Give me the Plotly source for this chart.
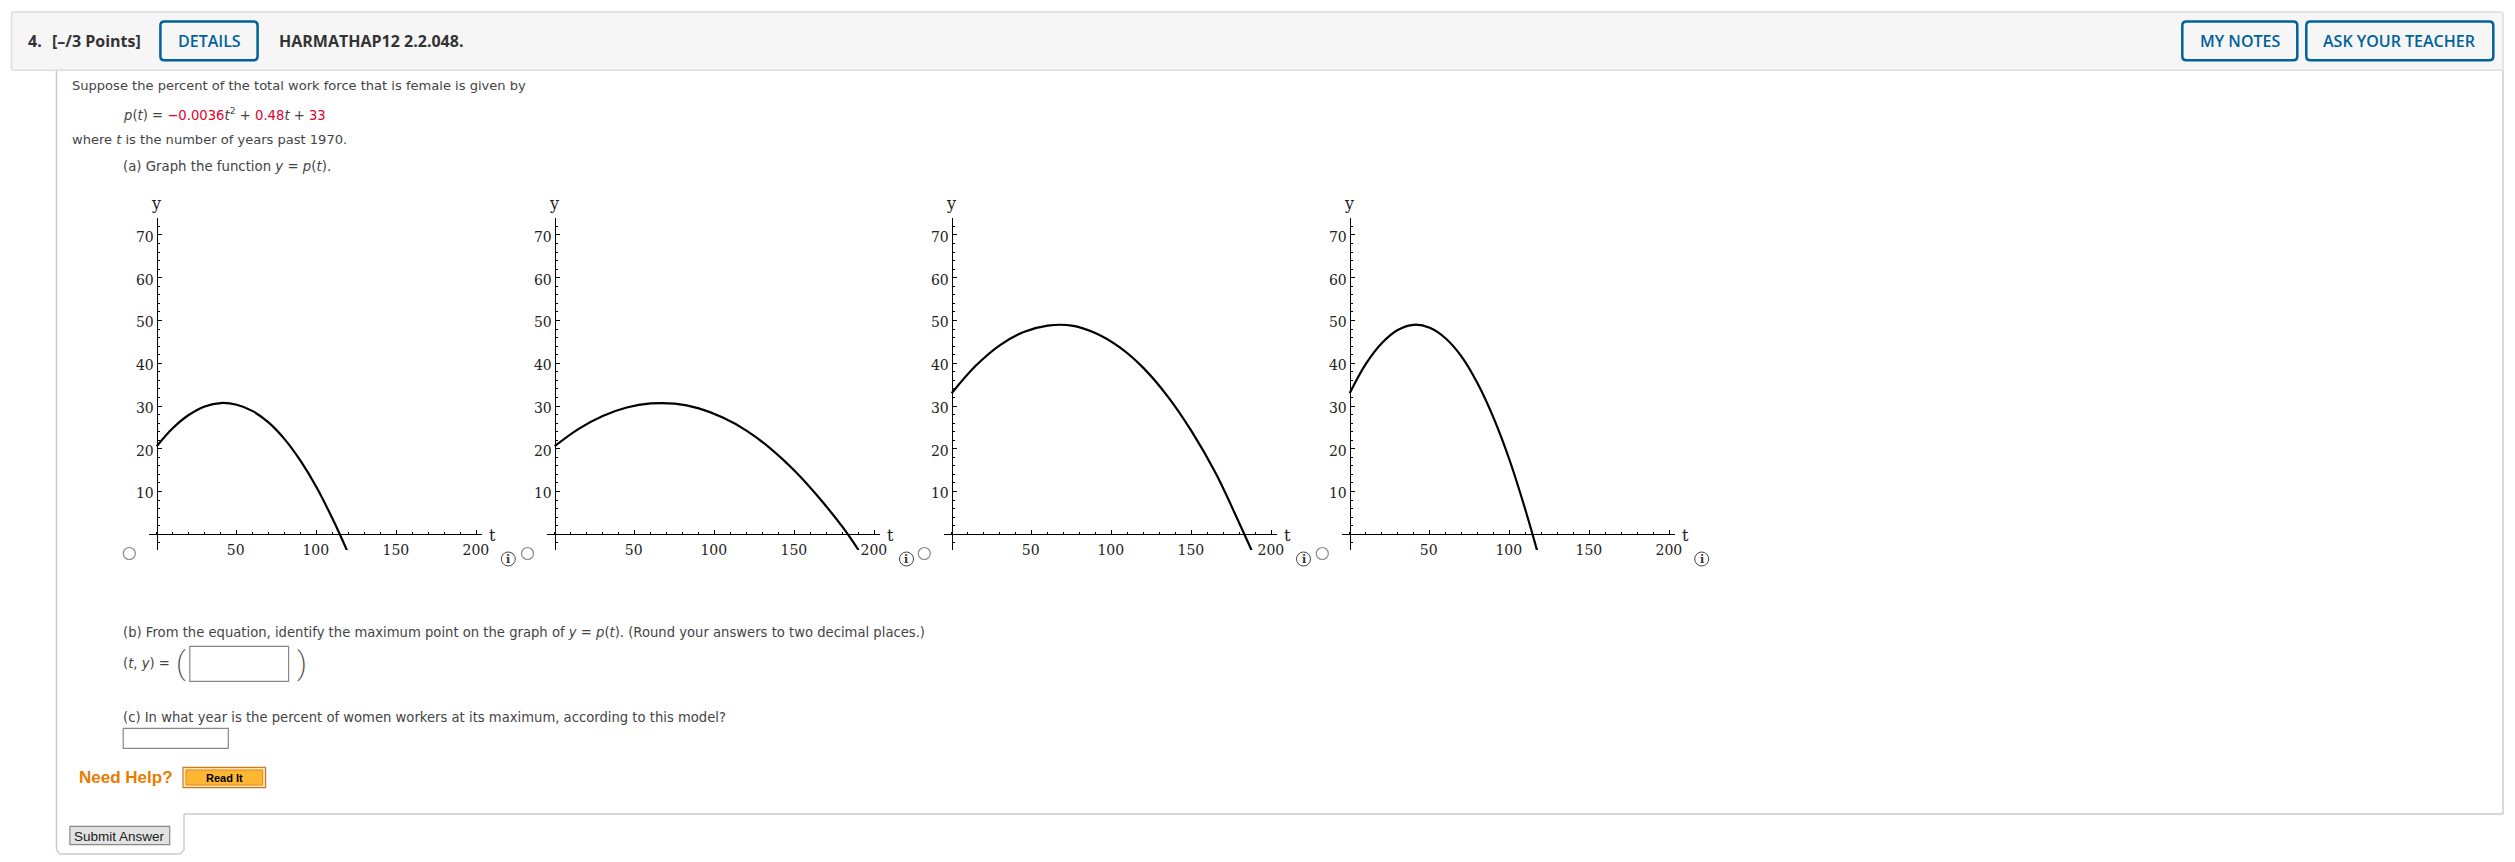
import plotly.graph_objects as go

WIDTH = 2515
HEIGHT = 862

COLOR_BLUE = "#00629b"
COLOR_TEXT = "#444444"
COLOR_RED = "#e4002b"
COLOR_FRAME = "#cccccc"
SERIF = "DejaVu Serif"
SANS = "DejaVu Sans"
HEAD = "Open Sans"

# values
t_a = [0, 10, 20, 30, 40, 50, 60, 70, 80, 90, 100, 110, 118.8]
y_a = [20.6, 24.8, 27.9, 29.9, 30.7, 30.3, 28.8, 26.1, 22.2, 17.1, 10.9, 3.5, -3.7]
t_b = [0, 15, 30, 45, 60, 75, 90, 105, 120, 135, 150, 165, 180, 189.8]
y_b = [20.6, 24.65, 27.66, 29.65, 30.6, 30.54, 29.44, 27.3, 24.2, 20.0, 14.8, 8.6, 1.6, -3.7]
t_c = [0, 15, 30, 45, 60, 75, 90, 105, 120, 135, 150, 165, 180, 187.3]
y_c = [33, 39.4, 44.2, 47.3, 48.8, 48.8, 47.0, 43.7, 38.8, 32.2, 24.0, 14.2, 2.3, -3.7]
t_d = [0, 10, 20, 30, 40, 50, 60, 70, 80, 90, 100, 110, 117]
y_d = [33, 39.8, 44.7, 47.8, 49, 48.3, 45.8, 41.5, 35.2, 27.1, 17.2, 5.4, -3.7]

x_ticks = [50, 100, 150, 200]
y_ticks = [10, 20, 30, 40, 50, 60, 70]

curves = [(t_a, y_a), (t_b, y_b), (t_c, y_c), (t_d, y_d)]
axis_x_px = [156.7, 554.7, 951.7, 1349.7]
radio_x_px = [129.3, 527.5, 924.3, 1322.3]
info_x_px = [508.3, 906.5, 1303.5, 1701.7]

fig = go.Figure()
shapes = []
annotations = []


def px_x(x):
    return x / WIDTH


def px_y(y):
    return 1 - y / HEIGHT


def add_text(x, y, text, size=13, color=COLOR_TEXT, family=SANS, anchor="left", weight=None):
    font = dict(size=size, color=color, family=family)
    if weight:
        font["weight"] = weight
    annotations.append(
        dict(
            x=px_x(x), y=px_y(y), xref="paper", yref="paper", text=text, showarrow=False,
            xanchor=anchor, yanchor="middle", font=font, borderpad=0, borderwidth=0,
        )
    )


def add_box(x0, y0, x1, y1, line, fill="rgba(0,0,0,0)", width=1, radius=0):
    # rounded rectangle as an svg path in paper coordinates
    r = radius
    p = (
        f"M {px_x(x0 + r)} {px_y(y0)} L {px_x(x1 - r)} {px_y(y0)} "
        f"Q {px_x(x1)} {px_y(y0)} {px_x(x1)} {px_y(y0 + r)} L {px_x(x1)} {px_y(y1 - r)} "
        f"Q {px_x(x1)} {px_y(y1)} {px_x(x1 - r)} {px_y(y1)} L {px_x(x0 + r)} {px_y(y1)} "
        f"Q {px_x(x0)} {px_y(y1)} {px_x(x0)} {px_y(y1 - r)} L {px_x(x0)} {px_y(y0 + r)} "
        f"Q {px_x(x0)} {px_y(y0)} {px_x(x0 + r)} {px_y(y0)} Z"
    )
    shapes.append(
        dict(type="path", path=p, xref="paper", yref="paper", fillcolor=fill,
             line=dict(color=line, width=width), layer="below")
    )


def add_line(x0, y0, x1, y1, color=COLOR_FRAME, width=1.5):
    shapes.append(
        dict(type="line", xref="paper", yref="paper", x0=px_x(x0), y0=px_y(y0), x1=px_x(x1), y1=px_y(y1),
             line=dict(color=color, width=width), layer="below")
    )


def add_circle(x, y, r, color="#888888", width=1.2):
    shapes.append(
        dict(type="circle", xref="paper", yref="paper", x0=px_x(x - r), y0=px_y(y + r), x1=px_x(x + r),
             y1=px_y(y - r), line=dict(color=color, width=width), layer="below")
    )


# Plot the four graphs, each with its axes crossing at the origin
for i, (t, y) in enumerate(curves):
    n = "" if i == 0 else str(i + 1)
    fig.add_trace(
        go.Scatter(
            x=t, y=y, mode="lines", xaxis="x" + n, yaxis="y" + n, showlegend=False,
            line=dict(color="black", width=2.2, shape="spline", smoothing=1),
        )
    )
    ax = axis_x_px[i]
    tick_font = dict(family=SERIF, size=14, color="#222222")
    fig.update_layout(
        **{
            "xaxis" + n: dict(
                domain=[px_x(ax - 7.7), px_x(ax + 325)], range=[-4.8, 203], anchor="free",
                position=px_y(534.3), showgrid=False, zeroline=False, showline=True,
                linecolor="black", linewidth=1.3, tickmode="array", tickvals=x_ticks,
                ticks="inside", ticklen=4, tickwidth=1.2, tickcolor="black", tickfont=tick_font,
                ticklabelstandoff=3, ticklabelshift=-1,
                minor=dict(dtick=10, tick0=0, ticks="inside", ticklen=2, tickwidth=1.2, tickcolor="black"),
            ),
            "yaxis" + n: dict(
                domain=[px_y(550), px_y(218.3)], range=[-3.67, 73.9], anchor="free",
                position=px_x(ax), showgrid=False, zeroline=False, showline=True,
                linecolor="black", linewidth=1.3, tickmode="array", tickvals=y_ticks,
                ticks="inside", ticklen=4, tickwidth=1.2, tickcolor="black", tickfont=tick_font,
                ticklabelshift=2,
                minor=dict(dtick=2, tick0=0, ticks="inside", ticklen=2, tickwidth=1.2, tickcolor="black"),
            ),
        }
    )
    add_text(ax - 1, 203.3, "y", size=16, color="#222222", family=SERIF, anchor="center")
    add_text(ax + 336, 535.3, "t", size=16, color="#222222", family=SERIF, anchor="center")
    add_circle(radio_x_px[i], 553.5, 6)
    add_circle(info_x_px[i], 559, 7, color="#444444", width=1)
    add_text(info_x_px[i], 559.5, "<b>i</b>", size=11, color="#333333", family=SERIF, anchor="center")

# Question header
add_box(11.5, 12, 2503, 70.3, "#dddddd", fill="#f6f6f6", width=1.5, radius=2)
add_box(160.4, 21.5, 257.6, 60.3, COLOR_BLUE, width=2.5, radius=4)
add_box(2182.3, 21.5, 2297.3, 60.3, COLOR_BLUE, width=2.5, radius=4)
add_box(2306.3, 21.5, 2493.3, 60.3, COLOR_BLUE, width=2.5, radius=4)
add_text(27.6, 41, "4.", size=16, color="#333333", family=HEAD, weight=700)
add_text(51.7, 41, "[–/3 Points]", size=16, color="#333333", family=HEAD, weight=700)
add_text(209, 41, "DETAILS", size=16, color=COLOR_BLUE, family=HEAD, anchor="center", weight=600)
add_text(279, 41, "HARMATHAP12 2.2.048.", size=16, color="#333333", family=HEAD, weight=700)
add_text(2239.8, 41, "MY NOTES", size=16, color=COLOR_BLUE, family=HEAD, anchor="center", weight=600)
add_text(2399.8, 41, "ASK YOUR TEACHER", size=16, color=COLOR_BLUE, family=HEAD, anchor="center", weight=600)

# Frame around the question
add_line(56.5, 70.3, 56.5, 850)
add_line(60, 854, 180, 854)
add_line(184, 850, 184, 814)
add_line(184, 814, 2503, 814)
add_line(2503, 70.3, 2503, 814)
add_line(56.5, 850, 60, 854)
add_line(180, 854, 184, 850)

# Question text
add_text(71.6, 85.5, "Suppose the percent of the total work force that is female is given by", size=13.05)
add_text(
    123, 113.5,
    f'<i>p</i>(<i>t</i>) = <span style="color:{COLOR_RED}">−0.0036</span><i>t</i><sup>2</sup> + '
    f'<span style="color:{COLOR_RED}">0.48</span><i>t</i> + <span style="color:{COLOR_RED}">33</span>',
    size=13.2,
)
add_text(71.6, 139.5, "where <i>t</i> is the number of years past 1970.", size=13.05)
add_text(123, 166.5, "(a) Graph the function <i>y</i> = <i>p</i>(<i>t</i>).", size=13.3)
add_text(123.2, 632.5, "(b) From the equation, identify the maximum point on the graph of <i>y</i> = <i>p</i>(<i>t</i>). (Round your answers to two decimal places.)", size=13.18)
add_text(123.2, 663.5, "(<i>t</i>, <i>y</i>) =", size=13.2)
add_text(180.6, 663, "(", size=32, family="Roboto", anchor="center", color="#444444", weight=200)
add_text(301.8, 663, ")", size=32, family="Roboto", anchor="center", color="#444444", weight=200)
add_box(189.8, 646.3, 288.6, 681.3, "#888888", fill="white", width=1.2)
add_text(123.2, 717.5, "(c) In what year is the percent of women workers at its maximum, according to this model?", size=13.18)
add_box(123.2, 728.3, 228.3, 748.3, "#888888", fill="white", width=1.2)

# Help and submit buttons
add_text(79, 777, "<b>Need Help?</b>", size=17, color="#e87c00", family="Liberation Sans")
add_box(183, 767.3, 265.6, 787.7, "#d07a20", fill="#fbe3b0", width=1.2)
add_box(186, 770, 262.6, 785, "#e08a20", fill="#ffb733", width=1)
add_text(224.3, 778, "<b>Read It</b>", size=11, color="black", family="Liberation Sans", anchor="center")
add_box(69.9, 826.3, 169.7, 844.7, "#888888", fill="#e2e2e2", width=1.2)
add_text(119.8, 836, "Submit Answer", size=13.5, color="#222222", family="Liberation Sans", anchor="center")

fig.update_layout(
    width=WIDTH,
    height=HEIGHT,
    margin=dict(l=0, r=0, t=0, b=0, pad=0, autoexpand=False),
    paper_bgcolor="white",
    plot_bgcolor="rgba(0,0,0,0)",
    shapes=shapes,
    annotations=annotations,
    showlegend=False,
)

fig.write_html(
    "out.html",
    config=dict(displayModeBar=False),
    post_script="document.body.style.margin='0';document.body.style.overflow='hidden';",
)
